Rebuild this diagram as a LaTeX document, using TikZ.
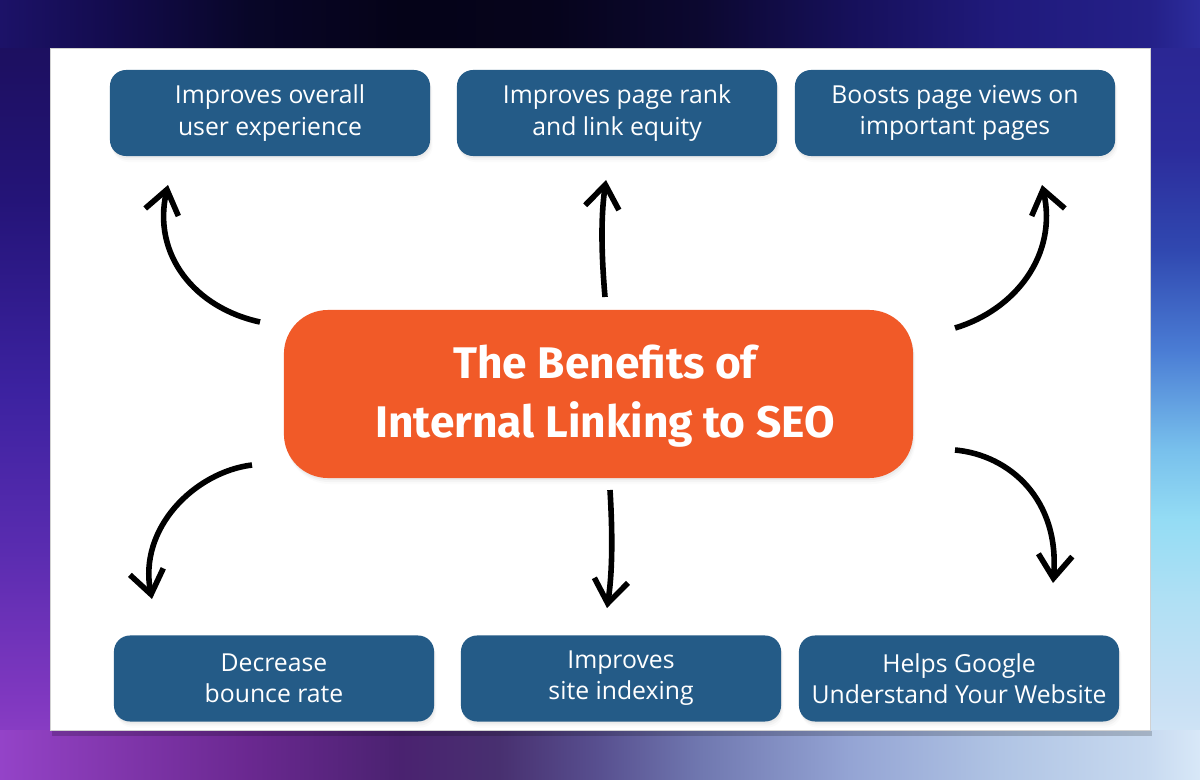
\documentclass[tikz,border=0pt]{standalone}
\usepackage{fontspec}
\setmainfont{Open Sans}
\newfontfamily\titlefont{Fira Sans}
\usetikzlibrary{arrows.meta,shadows}
\definecolor{boxblue}{HTML}{245B87}
\definecolor{seoorange}{HTML}{F15A28}
% top strip colours
\definecolor{tA}{HTML}{1C1268}\definecolor{tB}{HTML}{140C50}\definecolor{tC}{HTML}{080628}
\definecolor{tD}{HTML}{050318}\definecolor{tE}{HTML}{06041C}\definecolor{tF}{HTML}{0C0830}
\definecolor{tG}{HTML}{16105A}\definecolor{tH}{HTML}{201A7C}\definecolor{tI}{HTML}{242088}
\definecolor{tJ}{HTML}{2C2C9C}
% bottom strip colours
\definecolor{bA}{HTML}{9443C8}\definecolor{bB}{HTML}{8438B0}\definecolor{bC}{HTML}{6A2890}
\definecolor{bD}{HTML}{4A2270}\definecolor{bE}{HTML}{483070}\definecolor{bF}{HTML}{585090}
\definecolor{bG}{HTML}{7078B0}\definecolor{bH}{HTML}{94A4D4}\definecolor{bI}{HTML}{B0C4E4}
\definecolor{bJ}{HTML}{C8DAF0}\definecolor{bK}{HTML}{D8E8F8}
% left strip
\definecolor{lA}{HTML}{8038C0}\definecolor{lB}{HTML}{5A2CB0}\definecolor{lC}{HTML}{3C22A0}
\definecolor{lD}{HTML}{241478}\definecolor{lE}{HTML}{1A0E58}
% right strip
\definecolor{rA}{HTML}{C8E0F4}\definecolor{rB}{HTML}{B0E0F4}\definecolor{rC}{HTML}{94DCF4}
\definecolor{rD}{HTML}{78C0EC}\definecolor{rE}{HTML}{4A7CD4}\definecolor{rF}{HTML}{3048B0}
\definecolor{rG}{HTML}{2C2C9C}\definecolor{rH}{HTML}{2A2490}
\pgfdeclarehorizontalshading{topstrip}{100bp}{color(0bp)=(tA); color(25bp)=(tA); color(29.2bp)=(tB);
 color(35.4bp)=(tC); color(41.7bp)=(tD); color(47.9bp)=(tE); color(54.2bp)=(tF); color(60.4bp)=(tG);
 color(66.7bp)=(tH); color(72.9bp)=(tI); color(75bp)=(tJ); color(100bp)=(tJ)}
\pgfdeclarehorizontalshading{bottomstrip}{100bp}{color(0bp)=(bA); color(25bp)=(bA); color(29.2bp)=(bB);
 color(35.4bp)=(bC); color(41.7bp)=(bD); color(45.8bp)=(bE); color(50bp)=(bF); color(54.2bp)=(bG);
 color(60.4bp)=(bH); color(66.7bp)=(bI); color(72.9bp)=(bJ); color(75bp)=(bK); color(100bp)=(bK)}
\pgfdeclareverticalshading{leftstrip}{100bp}{color(0bp)=(bA); color(25bp)=(bA); color(30.1bp)=(lA);
 color(39.7bp)=(lB); color(50bp)=(lC); color(62.2bp)=(lD); color(75bp)=(lE); color(100bp)=(lE)}
\pgfdeclareverticalshading{rightstrip}{100bp}{color(0bp)=(bK); color(25bp)=(bK); color(30.1bp)=(rA);
 color(36.5bp)=(rB); color(41.7bp)=(rC); color(46.2bp)=(rD); color(52.6bp)=(rE); color(59bp)=(rF);
 color(65.4bp)=(rG); color(75bp)=(rH); color(100bp)=(rH)}
\tikzset{
  softshadow/.style={
    drop shadow={shadow xshift=0.02cm, shadow yshift=-0.05cm, opacity=0.07},
    drop shadow={shadow xshift=0.04cm, shadow yshift=-0.1cm, opacity=0.05},
    drop shadow={shadow xshift=0.06cm, shadow yshift=-0.15cm, opacity=0.03}},
  benefit/.style={fill=boxblue, rounded corners=0.4cm, minimum width=8cm, minimum height=2.15cm,
    text=white, align=center, inner sep=0pt, font=\fontsize{17.6}{22.2}\selectfont, softshadow},
  hub/.style={fill=seoorange, rounded corners=1.1cm, minimum width=15.725cm, minimum height=4.2cm,
    inner sep=0pt, softshadow},
  hubtext/.style={text=white, align=center, inner sep=0pt,
    font=\titlefont\bfseries\fontsize{31.5}{42.5}\selectfont},
  curvearrow/.style={draw=black, line width=0.14cm, -{Straight Barb[length=0.58cm,width=0.85cm]}}
}
\begin{document}
\begin{tikzpicture}[x=0.025cm,y=-0.025cm]
\useasboundingbox (0,0) rectangle (1200,780);
% background
\shade[shading=leftstrip] (0,0) rectangle (50,780);
\shade[shading=rightstrip] (1150,0) rectangle (1200,780);
\shade[shading=topstrip] (0,0) rectangle (1200,48);
\shade[shading=bottomstrip] (0,730) rectangle (1200,780);
% card
\fill[black,opacity=0.18] (52,731) rectangle (1152,736);
\draw[fill=white, draw=black!18, line width=0.4pt] (50,48) rectangle (1150,730);
% benefit boxes
\node[benefit] (b1) at (270,113) {Improves overall\\user experience};
\node[benefit] (b2) at (617,113) {Improves page rank\\and link equity};
\node[benefit] (b3) at (955,113) {Boosts page views on\\important pages};
\node[benefit] (b4) at (274,678.5) {Decrease\\bounce rate};
\node[benefit] (b5) at (621,678.5) {Improves\\site indexing};
\node[benefit] (b6) at (959,678.5) {Helps Google\\Understand Your Website};
% hub
\node[hub] (hub) at (598.5,394) {};
\node[hubtext] (title) at (605,396) {The Benefits of\\Internal Linking to SEO};
% arrow ends
\coordinate (a1s) at (260,322); \coordinate (a1e) at (168,185);
\coordinate (a2s) at (605,297); \coordinate (a2e) at (606,180);
\coordinate (a3s) at (955,328); \coordinate (a3e) at (1042,185);
\coordinate (a4s) at (252,465); \coordinate (a4e) at (152,599);
\coordinate (a5s) at (610,490); \coordinate (a5e) at (607,608);
\coordinate (a6s) at (955,450); \coordinate (a6e) at (1053,583);
\draw[curvearrow] (a1s) .. controls (195,308) and (152,255) .. (a1e);
\draw[curvearrow] (a2s) .. controls (601,250) and (601,215) .. (a2e);
\draw[curvearrow] (a3s) .. controls (1015,310) and (1058,255) .. (a3e);
\draw[curvearrow] (a4s) .. controls (195,472) and (138,528) .. (a4e);
\draw[curvearrow] (a5s) .. controls (613,540) and (612,575) .. (a5e);
\draw[curvearrow] (a6s) .. controls (1010,455) and (1060,500) .. (a6e);
\end{tikzpicture}
\end{document}
